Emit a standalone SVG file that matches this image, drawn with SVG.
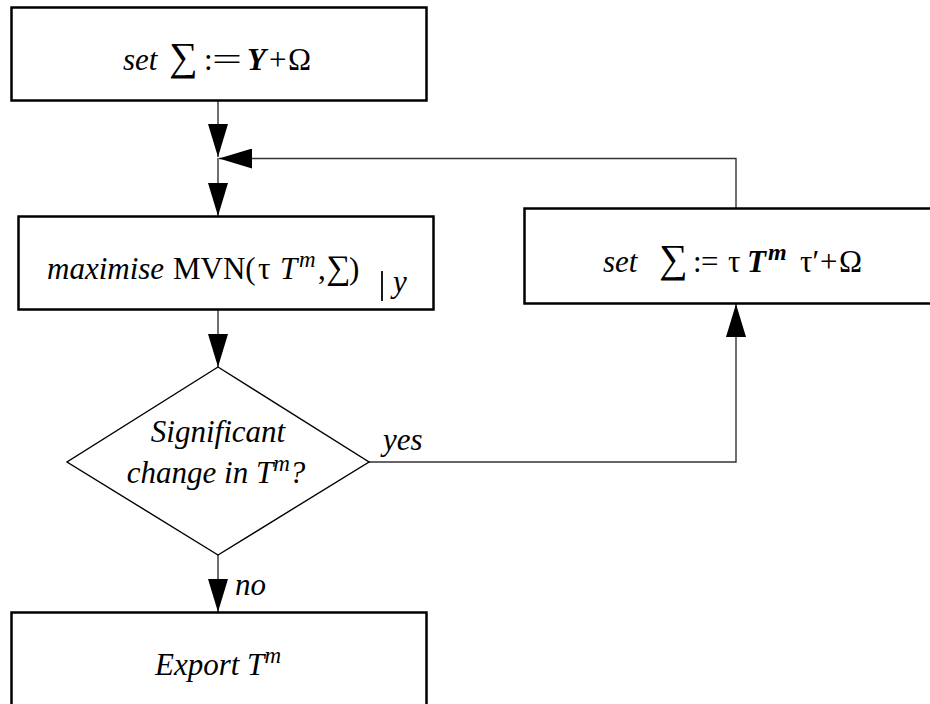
<svg xmlns="http://www.w3.org/2000/svg" width="930" height="704" viewBox="0 0 930 704">
<style>
.box{fill:#fff;stroke:#000;stroke-width:2.5}
.dia{fill:#fff;stroke:#000;stroke-width:1.4}
.con{fill:none;stroke:#333;stroke-width:1.4}
text{font-family:"Liberation Serif","Times New Roman",serif;font-size:31px;fill:#000}
.i{font-style:italic}
.bi{font-style:italic;font-weight:bold}
.sum{font-size:40px}
</style>
<defs>
<marker id="ah" markerUnits="userSpaceOnUse" markerWidth="33" markerHeight="20" refX="33" refY="10" orient="auto" viewBox="0 0 33 20">
<path d="M0,0 L33,10 L0,20 Z" fill="#000"/>
</marker>
</defs>
<g id="connectors">
<path class="con" d="M218,101 V157" marker-end="url(#ah)"/>
<path class="con" d="M736,208 V158.5 H219" marker-end="url(#ah)"/>
<path class="con" d="M218,158 V216" marker-end="url(#ah)"/>
<path class="con" d="M218,310 V367" marker-end="url(#ah)"/>
<path class="con" d="M369,462 H736 V304" marker-end="url(#ah)"/>
<path class="con" d="M218,555 V612" marker-end="url(#ah)"/>
<text class="i" x="383" y="450">yes</text>
<text class="i" x="235" y="595">no</text>
</g>
<g id="init">
<rect class="box" x="11.5" y="7.5" width="415" height="93"/>
<text y="70"><tspan class="i" x="123">set</tspan><tspan class="sum" x="169">∑</tspan><tspan x="204">:</tspan></text>
<text x="212" y="70" textLength="30" lengthAdjust="spacingAndGlyphs">=</text>
<text y="70"><tspan class="bi" x="247">Y</tspan><tspan x="269">+</tspan><tspan x="288">Ω</tspan></text>
</g>
<g id="maximise">
<rect class="box" x="18.5" y="216.5" width="415" height="93"/>
<text y="279"><tspan class="i" x="47">maximise</tspan><tspan x="173">MVN(</tspan><tspan x="258">τ</tspan><tspan class="i" x="280">T</tspan><tspan class="i" x="299" dy="-12" font-size="23">m</tspan><tspan x="318" dy="12">,</tspan><tspan x="326" font-size="34">∑</tspan><tspan x="349">)</tspan></text>
<line x1="382" y1="271" x2="382" y2="301" stroke="#000" stroke-width="1.8"/>
<text class="i" x="393" y="292" font-size="22">y</text>
</g>
<g id="update">
<rect class="box" x="524.5" y="208.5" width="420" height="95"/>
<text y="272"><tspan class="i" x="603">set</tspan><tspan class="sum" x="659">∑</tspan><tspan x="693">:</tspan><tspan x="701">=</tspan><tspan x="728">τ</tspan><tspan class="bi" x="747">T</tspan><tspan class="bi" x="768" dy="-12" font-size="24">m</tspan><tspan x="800" dy="12">τ′</tspan><tspan x="820">+</tspan><tspan x="839">Ω</tspan></text>
</g>
<g id="decision">
<polygon class="dia" points="218,367 369,462 218,555 67,462"/>
<text class="i" x="218" y="442" text-anchor="middle" font-size="32">Significant</text>
<text class="i" x="216" y="483" text-anchor="middle" font-size="32">change in T<tspan font-size="23" dy="-12">m</tspan><tspan dy="12">?</tspan></text>
</g>
<g id="export">
<rect class="box" x="11.5" y="612.5" width="415" height="100"/>
<text class="i" x="218" y="675" text-anchor="middle">Export T<tspan font-size="23" dy="-12">m</tspan></text>
</g>
</svg>
